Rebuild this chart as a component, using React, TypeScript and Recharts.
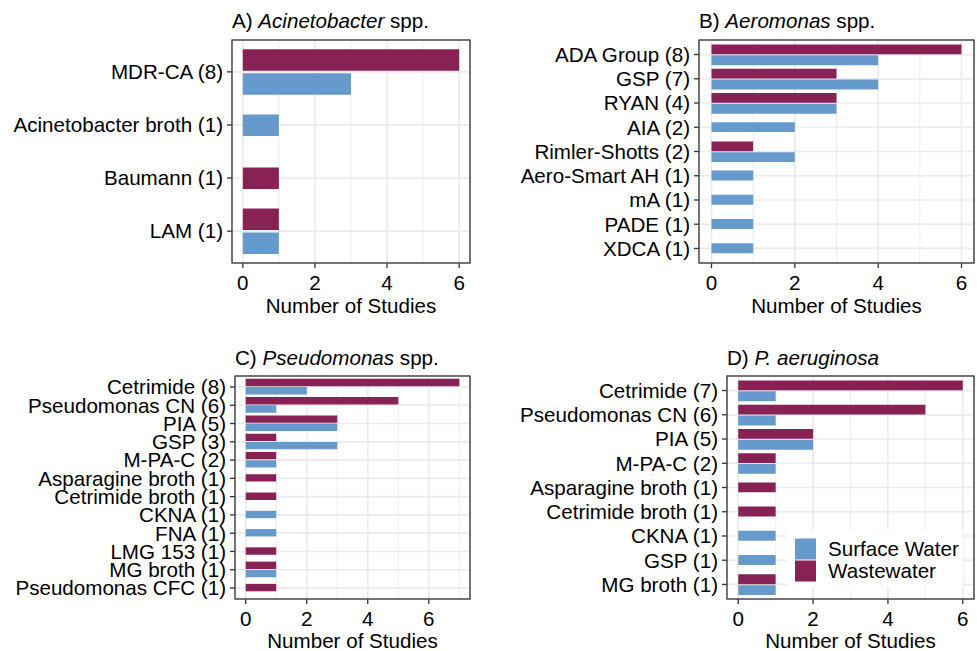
import React from 'react'
import { BarChart, Bar, XAxis, YAxis, CartesianGrid } from 'recharts'

const WINE = '#882255'
const BLUE = '#6699CC'
const INK = '#000000'
const GRID = '#EBEBEB'
const FONT = '"Liberation Sans", Arial, Helvetica, sans-serif'
const FS = 20.6

// A) Acinetobacter spp.
const acinetoCats = ['MDR-CA (8)', 'Acinetobacter broth (1)', 'Baumann (1)', 'LAM (1)']
const acinetoWW = [6, null, 1, 1]
const acinetoSW = [3, 1, null, 1]

// B) Aeromonas spp.
const aeroCats = [
  'ADA Group (8)', 'GSP (7)', 'RYAN (4)', 'AIA (2)', 'Rimler-Shotts (2)',
  'Aero-Smart AH (1)', 'mA (1)', 'PADE (1)', 'XDCA (1)'
]
const aeroWW = [6, 3, 3, null, 1, null, null, null, null]
const aeroSW = [4, 4, 3, 2, 2, 1, 1, 1, 1]

// C) Pseudomonas spp.
const pseudoCats = [
  'Cetrimide (8)', 'Pseudomonas CN (6)', 'PIA (5)', 'GSP (3)', 'M-PA-C (2)',
  'Asparagine broth (1)', 'Cetrimide broth (1)', 'CKNA (1)', 'FNA (1)',
  'LMG 153 (1)', 'MG broth (1)', 'Pseudomonas CFC (1)'
]
const pseudoWW = [7, 5, 3, 1, 1, 1, 1, null, null, 1, 1, 1]
const pseudoSW = [2, 1, 3, 3, 1, null, null, 1, 1, null, 1, null]

// D) P. aeruginosa
const aerugCats = [
  'Cetrimide (7)', 'Pseudomonas CN (6)', 'PIA (5)', 'M-PA-C (2)',
  'Asparagine broth (1)', 'Cetrimide broth (1)', 'CKNA (1)', 'GSP (1)', 'MG broth (1)'
]
const aerugWW = [6, 5, 2, 1, 1, 1, null, null, 1]
const aerugSW = [1, 1, 2, 1, null, null, 1, 1, 1]

const xTicks = [0, 2, 4, 6]
const minorSix = [1, 3, 5]
const minorSeven = [1, 3, 5, 7]

type Box = { l: number; r: number; t: number; b: number }

// pairs get dodged, lone bars sit in the middle of their row (dodge2 look)
function buildRows(cats: string[], ww: (number | null)[], sw: (number | null)[]) {
  return cats.map((name, i) => {
    const w = ww[i]
    const s = sw[i]
    const both = w != null && s != null
    return {
      name,
      wwPair: both ? w : null,
      swPair: both ? s : null,
      wwOnly: w != null && s == null ? w : null,
      swOnly: s != null && w == null ? s : null
    }
  })
}

const YTick = (props: any) => {
  const { x, y, payload } = props
  return (
    <text x={x} y={y} dy="0.355em" textAnchor="end" fontSize={FS} fontFamily={FONT} fill={INK}>
      {payload.value}
    </text>
  )
}

const XTick = (props: any) => {
  const { x, y, payload } = props
  return (
    <text x={x} y={y} dy="0.71em" textAnchor="middle" fontSize={FS} fontFamily={FONT} fill={INK}>
      {payload.value}
    </text>
  )
}

function Panel({
  cats, ww, sw, box, frame, domain, minor
}: {
  cats: string[]
  ww: (number | null)[]
  sw: (number | null)[]
  box: Box
  frame: { x: number; y: number; w: number; h: number }
  domain: [number, number]
  minor: number[]
}) {
  const rows = buildRows(cats, ww, sw)
  const plotH = box.b - box.t
  const band = plotH / (cats.length + 0.2)
  const pad = band * 0.1
  const barSize = band * 0.405
  const gap = band * 0.045
  const xAxisH = 30
  const yPad = { top: pad, bottom: pad }

  return (
    <div style={{ position: 'absolute', left: frame.x, top: frame.y }}>
      <BarChart
        width={frame.w}
        height={frame.h}
        data={rows}
        layout="vertical"
        barGap={gap}
        margin={{
          top: box.t - frame.y,
          right: frame.x + frame.w - box.r,
          left: 0,
          bottom: frame.y + frame.h - box.b - xAxisH
        }}
      >
        <CartesianGrid
          yAxisId="pair"
          horizontal={false}
          verticalValues={minor}
          stroke={GRID}
          strokeWidth={0.9}
        />
        <CartesianGrid yAxisId="pair" stroke={GRID} strokeWidth={1.7} />
        <XAxis
          type="number"
          domain={domain}
          ticks={xTicks}
          allowDataOverflow
          height={xAxisH}
          axisLine={false}
          tickSize={5}
          tickMargin={7}
          tickLine={{ stroke: '#333333', strokeWidth: 1.3 }}
          tick={<XTick />}
        />
        <YAxis
          yAxisId="pair"
          type="category"
          dataKey="name"
          width={box.l - frame.x}
          padding={yPad}
          interval={0}
          axisLine={false}
          tickSize={5}
          tickMargin={4}
          tickLine={{ stroke: '#333333', strokeWidth: 1.3 }}
          tick={<YTick />}
        />
        <YAxis yAxisId="wwOnly" type="category" dataKey="name" padding={yPad} hide />
        <YAxis yAxisId="swOnly" type="category" dataKey="name" padding={yPad} hide />
        <Bar dataKey="wwPair" yAxisId="pair" fill={WINE} barSize={barSize} isAnimationActive={false} />
        <Bar dataKey="swPair" yAxisId="pair" fill={BLUE} barSize={barSize} isAnimationActive={false} />
        <Bar dataKey="wwOnly" yAxisId="wwOnly" fill={WINE} barSize={barSize} isAnimationActive={false} />
        <Bar dataKey="swOnly" yAxisId="swOnly" fill={BLUE} barSize={barSize} isAnimationActive={false} />
      </BarChart>
    </div>
  )
}

const boxA: Box = { l: 232, r: 470, t: 40, b: 263 }
const boxB: Box = { l: 699, r: 974, t: 40, b: 263 }
const boxC: Box = { l: 235, r: 470, t: 376, b: 599 }
const boxD: Box = { l: 727, r: 974, t: 376, b: 599 }

function Frame({ box }: { box: Box }) {
  return (
    <rect x={box.l} y={box.t} width={box.r - box.l} height={box.b - box.t}
      fill="none" stroke="#333333" strokeWidth={1.3} />
  )
}

function AxisTitle({ box, y }: { box: Box; y: number }) {
  return (
    <text x={(box.l + box.r) / 2} y={y} textAnchor="middle" fontSize={FS} fontFamily={FONT} fill={INK}>
      Number of Studies
    </text>
  )
}

export default function App() {
  return (
    <div style={{ position: 'absolute', left: 0, top: 0, width: 977, height: 651, background: '#fff' }}>
      <Panel cats={acinetoCats} ww={acinetoWW} sw={acinetoSW} box={boxA}
        frame={{ x: 0, y: 0, w: 488, h: 325 }} domain={[-0.3, 6.3]} minor={minorSix} />
      <Panel cats={aeroCats} ww={aeroWW} sw={aeroSW} box={boxB}
        frame={{ x: 488, y: 0, w: 489, h: 325 }} domain={[-0.3, 6.3]} minor={minorSix} />
      <Panel cats={pseudoCats} ww={pseudoWW} sw={pseudoSW} box={boxC}
        frame={{ x: 0, y: 325, w: 488, h: 326 }} domain={[-0.35, 7.35]} minor={minorSeven} />
      <Panel cats={aerugCats} ww={aerugWW} sw={aerugSW} box={boxD}
        frame={{ x: 488, y: 325, w: 489, h: 326 }} domain={[-0.3, 6.3]} minor={minorSix} />

      <svg width={977} height={651} style={{ position: 'absolute', left: 0, top: 0, pointerEvents: 'none' }}>
        <Frame box={boxA} />
        <Frame box={boxB} />
        <Frame box={boxC} />
        <Frame box={boxD} />

        <g fontSize={FS} fontFamily={FONT} fill={INK}>
          <text x={232} y={28}>A) <tspan fontStyle="italic">Acinetobacter</tspan> spp.</text>
          <text x={699} y={28}>B) <tspan fontStyle="italic">Aeromonas</tspan> spp.</text>
          <text x={235} y={365}>C) <tspan fontStyle="italic">Pseudomonas</tspan> spp.</text>
          <text x={727} y={365}>D) <tspan fontStyle="italic">P. aeruginosa</tspan></text>
        </g>

        <AxisTitle box={boxA} y={313} />
        <AxisTitle box={boxB} y={313} />
        <AxisTitle box={boxC} y={648} />
        <AxisTitle box={boxD} y={648} />

        {/* legend inside panel D */}
        <rect x={787} y={530} width={176} height={57} fill="#ffffff" />
        <rect x={795} y={538.5} width={21} height={21} fill={BLUE} />
        <rect x={795} y={560.5} width={21} height={21} fill={WINE} />
        <text x={828} y={556} fontSize={FS} fontFamily={FONT} fill={INK}>Surface Water</text>
        <text x={828} y={578} fontSize={FS} fontFamily={FONT} fill={INK}>Wastewater</text>
      </svg>
    </div>
  )
}
